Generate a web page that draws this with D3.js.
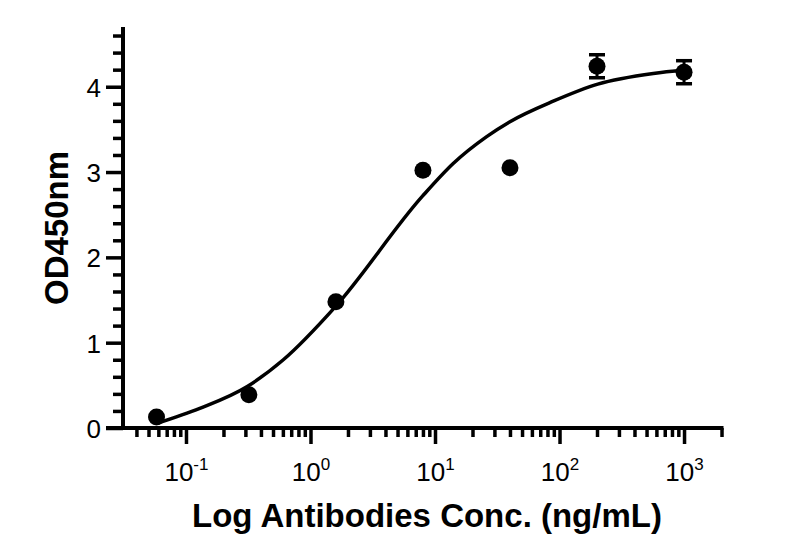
<!DOCTYPE html>
<html>
<head>
<meta charset="utf-8">
<script src="https://cdn.jsdelivr.net/npm/d3@7"></script>
<style>
  html, body { margin: 0; padding: 0; background: #fff; }
  svg { display: block; }
  text { font-family: "Liberation Sans", Arial, sans-serif; fill: #000; }
</style>
</head>
<body>
<svg id="chart" width="794" height="541"></svg>
<script>
// ---- data ----
const concentrations = [0.058, 0.32, 1.6, 8, 40, 200, 1000];     // ng/mL
const odValues       = [0.13, 0.39, 1.48, 3.02, 3.05, 4.24, 4.17]; // OD450
const odErrors       = [0, 0, 0, 0, 0, 0.135, 0.135];
// fitted curve
const curveConc = [0.0585, 0.129, 0.313, 0.605, 1.58, 7.96, 14.0, 26.0, 40.0, 89.0, 203, 566, 1019];
const curveOD   = [0.055, 0.23, 0.49, 0.80, 1.42, 2.72, 3.10, 3.415, 3.59, 3.83, 4.03, 4.155, 4.195];
const yMajorTicks = [0, 1, 2, 3, 4];
const yMinorTicks = [0.2,0.4,0.6,0.8,1.2,1.4,1.6,1.8,2.2,2.4,2.6,2.8,3.2,3.4,3.6,3.8,4.2,4.4,4.6];
const xMajorTicks = [0.1, 1, 10, 100, 1000];
const xMajorExponents = ["-1", "0", "1", "2", "3"];
const xDomain = [0.0312, 2018];
const yDomain = [0, 4.7];
const xTitle = "Log Antibodies Conc. (ng/mL)";
const yTitle = "OD450nm";

// ---- drawing ----
const svg = d3.select("#chart");
const x = d3.scaleLog().domain(xDomain).range([123, 722]);
const y = d3.scaleLinear().domain(yDomain).range([428, 27]);

// minor log ticks
const xMinorTicks = [];
for (let e = -2; e <= 3; e++) {
  for (let m = 2; m <= 9; m++) {
    const v = m * Math.pow(10, e);
    if (v >= xDomain[0] && v <= xDomain[1]) xMinorTicks.push(v);
  }
}

const axisStroke = 4;
const tickStroke = 3.5;

// X axis
const gx = svg.append("g").attr("transform", "translate(0,428)");
gx.call(d3.axisBottom(x).tickValues(xMinorTicks).tickSize(9).tickFormat(""))
  .call(g => g.select(".domain").remove())
  .call(g => g.selectAll(".tick line").attr("stroke", "#000").attr("stroke-width", tickStroke));
const gx2 = svg.append("g").attr("transform", "translate(0,428)");
gx2.call(d3.axisBottom(x).tickValues(xMajorTicks).tickSize(16).tickFormat(""))
  .call(g => g.select(".domain").remove())
  .call(g => g.selectAll(".tick line").attr("stroke", "#000").attr("stroke-width", tickStroke));
gx2.selectAll(".tick").each(function(d, i) {
  const t = d3.select(this).append("text")
    .attr("y", 53).attr("text-anchor", "middle")
    .style("font-size", "26px").attr("fill", "#000");
  t.append("tspan").text("10");
  t.append("tspan").attr("dy", -11).style("font-size", "17px").text(xMajorExponents[i]);
});
svg.append("line")
  .attr("x1", 106).attr("x2", x.range()[1] + 1.5)
  .attr("y1", y(0)).attr("y2", y(0))
  .attr("stroke", "#000").attr("stroke-width", axisStroke);

// Y axis
const gy = svg.append("g").attr("transform", "translate(123,0)");
gy.call(d3.axisLeft(y).tickValues(yMinorTicks).tickSize(10).tickFormat(""))
  .call(g => g.select(".domain").remove())
  .call(g => g.selectAll(".tick line").attr("stroke", "#000").attr("stroke-width", tickStroke));
const gy2 = svg.append("g").attr("transform", "translate(123,0)");
gy2.call(d3.axisLeft(y).tickValues(yMajorTicks).tickSize(17).tickFormat(d3.format("d")))
  .call(g => g.select(".domain").remove())
  .call(g => g.selectAll(".tick line").attr("stroke", "#000").attr("stroke-width", tickStroke))
  .call(g => g.selectAll(".tick text")
    .attr("x", -22).attr("dy", "0.36em")
    .style("font-size", "26px").style("font-family", "Liberation Sans, Arial, sans-serif")
    .attr("fill", "#000"));
svg.append("line")
  .attr("x1", 123).attr("x2", 123)
  .attr("y1", y(yDomain[1])).attr("y2", y(0) + 2)
  .attr("stroke", "#000").attr("stroke-width", axisStroke);

// fitted curve
const curveData = curveConc.map((c, i) => [c, curveOD[i]]);
svg.append("path")
  .datum(curveData)
  .attr("fill", "none").attr("stroke", "#000").attr("stroke-width", 3.5)
  .attr("d", d3.line().x(d => x(d[0])).y(d => y(d[1])).curve(d3.curveMonotoneX));

// error bars
const pts = concentrations.map((c, i) => ({c, v: odValues[i], e: odErrors[i]}));
const eb = svg.append("g").selectAll("g").data(pts.filter(d => d.e > 0)).join("g");
eb.append("line")
  .attr("x1", d => x(d.c)).attr("x2", d => x(d.c))
  .attr("y1", d => y(d.v + d.e)).attr("y2", d => y(d.v - d.e))
  .attr("stroke", "#000").attr("stroke-width", 3);
eb.selectAll(".cap").data(d => [[d.c, d.v + d.e], [d.c, d.v - d.e]]).join("line")
  .attr("x1", d => x(d[0]) - 8).attr("x2", d => x(d[0]) + 8)
  .attr("y1", d => y(d[1])).attr("y2", d => y(d[1]))
  .attr("stroke", "#000").attr("stroke-width", 3.5);

// points
svg.append("g").selectAll("circle").data(pts).join("circle")
  .attr("cx", d => x(d.c)).attr("cy", d => y(d.v)).attr("r", 8.5)
  .attr("fill", "#000");

// titles
svg.append("text")
  .attr("x", 427).attr("y", 527).attr("text-anchor", "middle")
  .style("font-size", "33px").style("font-weight", "bold")
  .text(xTitle);
svg.append("text")
  .attr("transform", "translate(68,228) rotate(-90)")
  .attr("text-anchor", "middle")
  .style("font-size", "33px").style("font-weight", "bold")
  .text(yTitle);
</script>
</body>
</html>
